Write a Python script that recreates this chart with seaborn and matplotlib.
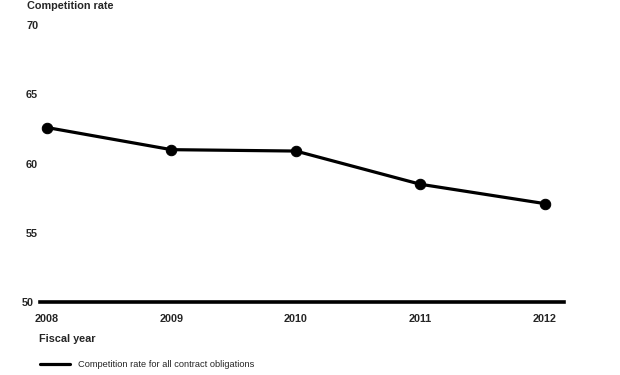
import pandas as pd
import matplotlib.pyplot as plt
import seaborn as sns
from matplotlib.lines import Line2D
from matplotlib.transforms import ScaledTranslation

years = [2008, 2009, 2010, 2011, 2012]
rates = [62.6, 61.0, 60.9, 58.5, 57.1]
yticks = [50, 55, 60, 65, 70]

df = pd.DataFrame({'year': years, 'rate': rates})

sns.set_style('white')
plt.rcParams['font.family'] = ['Liberation Sans', 'DejaVu Sans']

fig = plt.figure(figsize=(6.2, 3.75), dpi=100)
ax = fig.add_axes([0.0645, 0.195, 0.845, 0.738])

sns.lineplot(data=df, x='year', y='rate', ax=ax, color='black', linewidth=2.3,
             marker='o', markersize=7.5, markeredgecolor='black')

ax.set_xlim(2007.944, 2012.153)
ax.set_ylim(50, 70)
ax.set_xticks(years)
ax.set_yticks(yticks)
ax.set_xticklabels([str(y) for y in years], fontsize=7.8, fontweight='bold')
ax.set_yticklabels([str(y) for y in yticks], fontsize=7.8, fontweight='bold', ha='left')
ax.tick_params(axis='both', length=0)
ax.tick_params(axis='x', pad=9)
ax.tick_params(axis='y', pad=10)
ax.set_xlabel('')
ax.set_ylabel('')

# the 50 label sits a bit further left in the original
lab50 = ax.get_yticklabels()[0]
lab50.set_transform(lab50.get_transform() + ScaledTranslation(-0.04, 0, fig.dpi_scale_trans))

for s in ['top', 'right', 'left']:
    ax.spines[s].set_visible(False)
ax.spines['bottom'].set_linewidth(2.6)
ax.spines['bottom'].set_color('black')

fig.text(0.043, 0.997, 'Competition rate', fontsize=7.8, fontweight='bold', va='top', ha='left')
fig.text(0.063, 0.096, 'Fiscal year', fontsize=7.8, fontweight='bold', va='center', ha='left')

fig.add_artist(Line2D([0.064, 0.113], [0.029, 0.029], color='black', linewidth=2.3))
fig.text(0.125, 0.029, 'Competition rate for all contract obligations', fontsize=6.7,
         va='center', ha='left')

fig.savefig('out.png', dpi=100)
